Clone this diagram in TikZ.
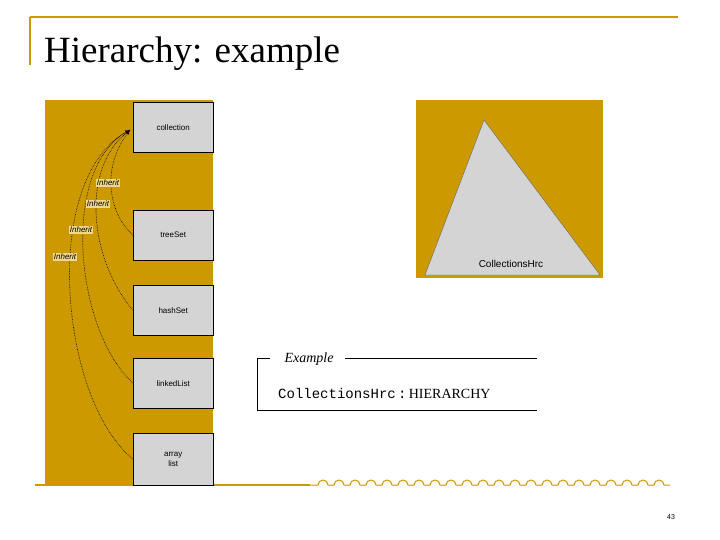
\documentclass[tikz,border=0pt]{standalone}
\usepackage{fontspec}
\setsansfont{Liberation Sans}
\setmainfont{Liberation Serif}
\setmonofont{Liberation Mono}
\begin{document}
\begin{tikzpicture}[x=1pt,y=-1pt,
  cbox/.style={fill=boxgray,draw=black,line width=0.4pt,minimum width=80pt,anchor=north west,font=\sffamily\footnotesize,align=center,inner sep=0pt},
  inh/.style={fill=labfill,font=\sffamily\itshape\footnotesize,inner sep=1pt},
  arc/.style={densely dotted,line width=0.6pt}]
\definecolor{gold}{RGB}{204,153,0}
\definecolor{boxgray}{RGB}{212,212,212}
\definecolor{labfill}{RGB}{240,215,140}
\useasboundingbox (0,0) rectangle (720,540);
\fill[white] (0,0) rectangle (720,540);
% slide frame
\draw[gold,line width=1.5pt] (30,17) -- (678,17);
\draw[gold,line width=1.5pt] (30,17) -- (30,65);
\node[anchor=base west,font=\fontsize{37}{40}\selectfont,inner sep=0pt] (title) at (44,63) {Hierarchy: example};
\draw[gold,line width=1.5pt] (35,485) -- (310,485);
\draw[gold,line width=1pt] (310,485) -- (318,485)
  \foreach \i in {0,...,21}{ arc[start angle=180,end angle=0,radius=5pt] -- ++(6,0)};
\node[font=\sffamily\scriptsize] (pg) at (671,517) {43};
% left panel
\fill[gold] (45,100) rectangle (213,485);
\node[cbox,minimum height=50pt] (coll) at (133,102) {collection};
\node[cbox,minimum height=50pt] (tree) at (133,210) {treeSet};
\node[cbox,minimum height=50pt] (hash) at (133,285) {hashSet};
\node[cbox,minimum height=50pt] (link) at (133,358) {linkedList};
\node[cbox,minimum height=52pt] (arr) at (133,433) {array\\list};
\coordinate (tip) at (130,130);
\draw[arc,-latex] (tree.west) .. controls (110,215) and (100,170) .. (tip);
\draw[arc,-latex] (hash.west) .. controls (90,260) and (80,170) .. (tip);
\draw[arc,-latex] (link.west) .. controls (75,330) and (60,170) .. (tip);
\draw[arc,-latex] (arr.west) .. controls (60,400) and (40,180) .. (tip);
\node[inh] (i1) at (108,183) {Inherit};
\node[inh] (i2) at (98,204) {Inherit};
\node[inh] (i3) at (81,230) {Inherit};
\node[inh] (i4) at (65,257) {Inherit};
% right panel
\fill[gold] (416,100) rectangle (603,278);
\fill[boxgray,draw=black!60] (484,120) -- (425,275) -- (600,275) -- cycle;
\node[font=\sffamily] (ch) at (511,264) {CollectionsHrc};
% example frame
\draw (270,358) -- (257,358) -- (257,410) -- (537,410);
\draw (345,358) -- (537,358);
\node[font=\itshape\fontsize{14}{16}\selectfont] (ex) at (309,359) {Example};
\node[anchor=west,font=\ttfamily\fontsize{14}{16}\selectfont,inner sep=0pt] (line) at (278,393) {CollectionsHrc\,:\,\textrm{HIERARCHY}};
\end{tikzpicture}
\end{document}
